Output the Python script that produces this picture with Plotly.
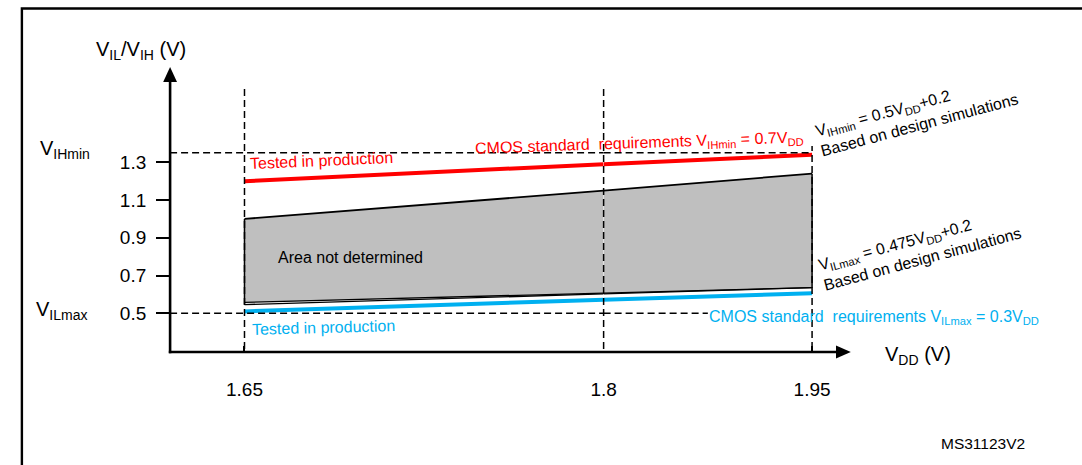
import plotly.graph_objects as go

# ---------------- data ----------------
vdd = [1.65, 1.8, 1.95]                      # V_DD (V)
x_tick_labels = ["1.65", "1.8", "1.95"]
y_ticks = [0.5, 0.7, 0.9, 1.1, 1.3]
y_tick_labels = ["0.5", "0.7", "0.9", "1.1", "1.3"]

vih_tested = [1.20, 1.29, 1.34]              # red: tested in production (V_IH)
vih_design = [1.00, 1.15, 1.24]              # top of "area not determined"
vil_design = [0.558, 0.607, 0.636]           # bottom of "area not determined"
vil_design_lower = [0.546, 0.603, 0.636]     # second black line under the area
vil_tested = [0.51, 0.572, 0.606]            # blue: tested in production (V_IL)
vih_cmos = 1.35                              # V_IHmin level (dashed)
vil_cmos = 0.5                               # V_ILmax level (dashed)
vil_dash_end = 1.875                         # dashed V_ILmax line stops before its label

# ---------------- layout constants ----------------
W, H = 1082, 465
FONT = "Liberation Sans, Arial, sans-serif"
RED = "#ff0000"
BLUE = "#00b0f0"
GRAY = "#bfbfbf"

# schematic (not-to-scale) x axis: two linear pieces joined at 1.8 V
X_ORIGIN_PX = 159.0
X_MID_PX = 597.8
S1 = (597.8 - 234.3) / (vdd[1] - vdd[0])     # px per volt, left piece
S2 = (808.8 - 597.8) / (vdd[2] - vdd[1])     # px per volt, right piece
Y_REF_PX = 313.3                             # pixel row of 0.5 V
Y_SCALE = 188.75                             # px per volt
AXIS_Y_PX = 352.0


def PX(x):
    return x / W


def PY(y):
    return 1 - y / H


fig = go.Figure()


def add_series(y, **line):
    fig.add_trace(go.Scatter(x=vdd[:2], y=y[:2], xaxis="x", yaxis="y", mode="lines",
                             line=line, hoverinfo="skip", showlegend=False))
    fig.add_trace(go.Scatter(x=vdd[1:], y=y[1:], xaxis="x2", yaxis="y", mode="lines",
                             line=line, hoverinfo="skip", showlegend=False))


# gray "area not determined" (split over the two axis pieces)
for xa, i0, i1 in (("x", 0, 1), ("x2", 1, 2)):
    fig.add_trace(go.Scatter(
        x=[vdd[i0], vdd[i1], vdd[i1], vdd[i0]],
        y=[vih_design[i0], vih_design[i1], vil_design[i1], vil_design[i0]],
        xaxis=xa, yaxis="y", mode="lines", fill="toself", fillcolor=GRAY,
        line=dict(width=0, color=GRAY), hoverinfo="skip", showlegend=False))

add_series(vih_design, color="black", width=1.8)
add_series(vil_design, color="black", width=1.3)
add_series(vil_design_lower, color="black", width=1.3)
# vertical edges of the area
fig.add_trace(go.Scatter(x=[vdd[0], vdd[0]], y=[vil_design_lower[0], vih_design[0]],
                         xaxis="x", yaxis="y", mode="lines",
                         line=dict(color="black", width=1.5), hoverinfo="skip", showlegend=False))
fig.add_trace(go.Scatter(x=[vdd[2], vdd[2]], y=[vil_design[2], vih_design[2]],
                         xaxis="x2", yaxis="y", mode="lines",
                         line=dict(color="black", width=1.5), hoverinfo="skip", showlegend=False))

add_series(vih_tested, color=RED, width=4)
add_series(vil_tested, color=BLUE, width=4)

# ---------------- shapes ----------------
DASH = dict(color="black", width=1.5, dash="7px,4px")
shapes = []
# vertical dashed guides (the 1.8 V one sits on the joint of the two axis pieces)
shapes.append(dict(type="line", xref="x", yref="paper", x0=vdd[0], x1=vdd[0],
                   y0=PY(349), y1=PY(88), line=DASH))
shapes.append(dict(type="line", xref="paper", yref="paper", x0=PX(X_MID_PX), x1=PX(X_MID_PX),
                   y0=PY(349), y1=PY(88), line=DASH))
shapes.append(dict(type="line", xref="x2", yref="paper", x0=vdd[2], x1=vdd[2],
                   y0=PY(349), y1=PY(146), line=DASH))
# horizontal dashed levels
shapes.append(dict(type="line", xref="x domain", yref="y", x0=0, x1=1,
                   y0=vih_cmos, y1=vih_cmos, line=DASH))
shapes.append(dict(type="line", xref="x2", yref="y", x0=vdd[1], x1=vdd[2],
                   y0=vih_cmos, y1=vih_cmos, line=DASH))
shapes.append(dict(type="line", xref="x domain", yref="y", x0=0, x1=1,
                   y0=vil_cmos, y1=vil_cmos, line=DASH))
shapes.append(dict(type="line", xref="x2", yref="y", x0=vdd[1], x1=vil_dash_end,
                   y0=vil_cmos, y1=vil_cmos, line=DASH))
# axes with arrows
AX = dict(color="black", width=2.6)
shapes.append(dict(type="line", xref="paper", yref="paper", x0=PX(X_ORIGIN_PX), x1=PX(X_ORIGIN_PX),
                   y0=PY(AXIS_Y_PX + 1.3), y1=PY(80), line=AX))
shapes.append(dict(type="line", xref="paper", yref="paper", x0=PX(X_ORIGIN_PX - 1.3), x1=PX(835),
                   y0=PY(AXIS_Y_PX), y1=PY(AXIS_Y_PX), line=AX))
shapes.append(dict(type="path", xref="paper", yref="paper",
                   path=f"M {PX(X_ORIGIN_PX)} {PY(67)} L {PX(X_ORIGIN_PX - 7)} {PY(82)} "
                        f"L {PX(X_ORIGIN_PX + 7)} {PY(82)} Z",
                   fillcolor="black", line=dict(width=0)))
shapes.append(dict(type="path", xref="paper", yref="paper",
                   path=f"M {PX(848)} {PY(AXIS_Y_PX)} L {PX(833)} {PY(AXIS_Y_PX - 6.5)} "
                        f"L {PX(833)} {PY(AXIS_Y_PX + 6.5)} Z",
                   fillcolor="black", line=dict(width=0)))
# frame (open to the right and bottom)
shapes.append(dict(type="path", xref="paper", yref="paper",
                   path=f"M {PX(9)} {PY(H + 20)} L {PX(9)} {PY(8.5)} L {PX(W + 20)} {PY(8.5)}",
                   line=dict(color="black", width=2.4)))


# ---------------- annotations ----------------
def ann(text, x, y, size=16, color="black", angle=0, xanchor="center", align="center"):
    return dict(text=text, x=PX(x), y=PY(y), xref="paper", yref="paper", showarrow=False,
                xanchor=xanchor, yanchor="middle", textangle=angle, align=align,
                font=dict(family=FONT, size=size, color=color))


annotations = [
    ann("V<sub>IL</sub>/V<sub>IH</sub> (V)", 81.5, 51, size=20, xanchor="left"),
    ann("V<sub>IHmin</sub>", 25.5, 149, size=20, xanchor="left"),
    ann("V<sub>ILmax</sub>", 21.5, 310, size=20, xanchor="left"),
    ann("V<sub>DD</sub> (V)", 881, 355, size=20, xanchor="left"),
    ann("Tested in production", 312.5, 161, color=RED, angle=-2.5),
    ann("CMOS standard\u00a0 requirements V<sub>IHmin</sub> = 0.7V<sub>DD</sub>", 634, 143,
        color=RED, angle=-2),
    ann("Area not determined", 342, 257),
    ann("Tested in production", 314.5, 327, color=BLUE, angle=-1.5),
    ann("CMOS standard\u00a0 requirements V<sub>ILmax</sub> = 0.3V<sub>DD</sub>", 871, 317,
        color=BLUE),
    ann("V<sub>IHmin</sub> = 0.5V<sub>DD</sub>+0.2<br>Based on design simulations", 914.5, 115,
        angle=-15, align="left"),
    ann("V<sub>ILmax</sub> = 0.475V<sub>DD</sub>+0.2<br>Based on design simulations", 918, 249,
        angle=-15, align="left"),
    ann("MS31123V2", 981.5, 443, size=15.5),
]

# ---------------- axes ----------------
x_common = dict(anchor="free", position=PY(AXIS_Y_PX), showgrid=False, zeroline=False,
                showline=False, ticks="inside", ticklen=6, tickwidth=1.5, tickcolor="black",
                tickmode="array", ticklabelstandoff=24,
                tickfont=dict(family=FONT, size=19, color="black"), fixedrange=True)

fig.update_layout(
    width=W, height=H, autosize=False,
    margin=dict(l=0, r=0, t=0, b=0),
    paper_bgcolor="white", plot_bgcolor="rgba(0,0,0,0)",
    showlegend=False,
    xaxis=dict(domain=[PX(X_ORIGIN_PX), PX(X_MID_PX)],
               range=[vdd[1] - (X_MID_PX - X_ORIGIN_PX) / S1, vdd[1]],
               tickvals=vdd[:1], ticktext=x_tick_labels[:1], **x_common),
    xaxis2=dict(domain=[PX(X_MID_PX), 1],
                range=[vdd[1], vdd[1] + (W - X_MID_PX) / S2],
                tickvals=vdd[1:], ticktext=x_tick_labels[1:], **x_common),
    yaxis=dict(domain=[0, 1], anchor="x", side="left",
               range=[vil_cmos - (H - Y_REF_PX) / Y_SCALE, vil_cmos + Y_REF_PX / Y_SCALE],
               showgrid=False, zeroline=False, showline=False,
               ticks="outside", ticklen=13, tickwidth=1.5, tickcolor="black",
               tickmode="array", tickvals=y_ticks, ticktext=y_tick_labels,
               ticklabelstandoff=6,
               tickfont=dict(family=FONT, size=19, color="black"), fixedrange=True),
    shapes=shapes,
    annotations=annotations,
)

# place the figure at the page's top-left corner, exactly filling the window
fig.write_html("out.html", config={"displayModeBar": False},
               post_script="document.body.style.margin='0';"
                           "document.body.style.overflow='hidden';")
